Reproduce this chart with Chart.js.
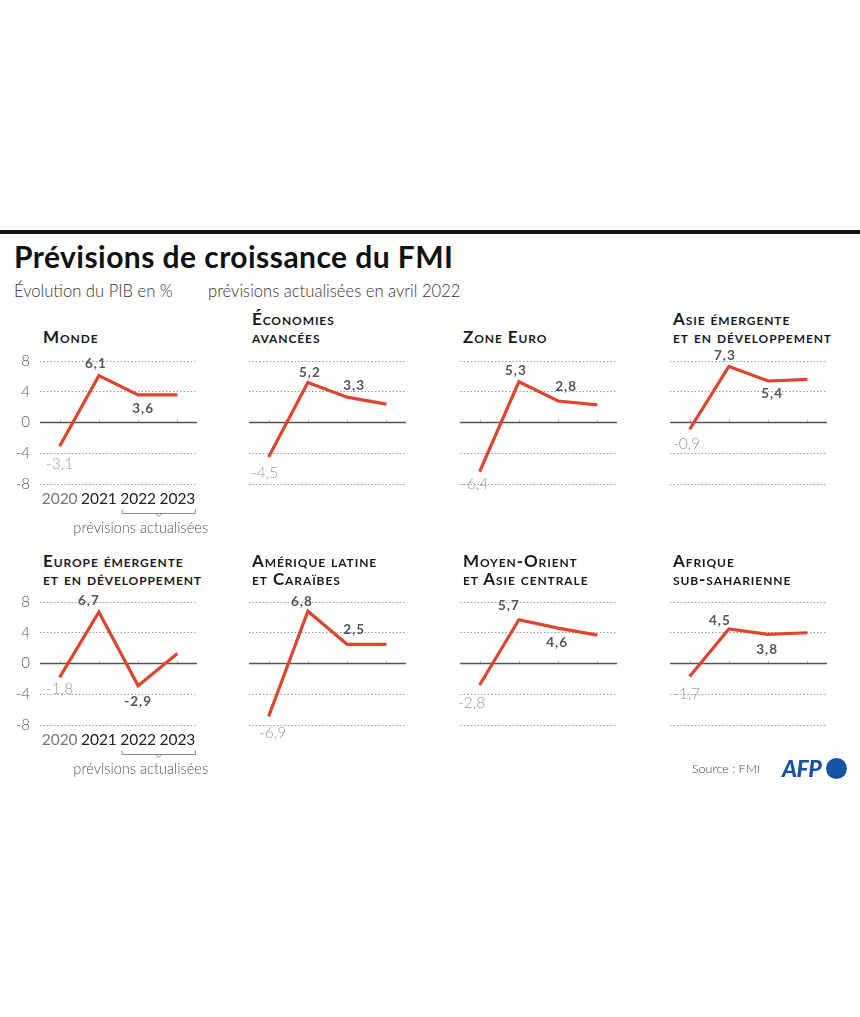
<!DOCTYPE html>
<html>
<head>
<meta charset="utf-8">
<script src="https://cdn.jsdelivr.net/npm/chart.js@4.4.1/dist/chart.umd.min.js"></script>
<style>
  html, body { margin:0; padding:0; background:#fff; }
  body { width:860px; height:1017px; position:relative; overflow:hidden; font-family: "Lato", "Noto Sans", sans-serif; }
  #bar { position:absolute; left:0; top:230px; width:860px; height:4px; background:#111; }
  #title { position:absolute; left:14px; top:238px; font-size:30px; font-weight:700; color:#111; white-space:nowrap; letter-spacing:0.45px; }
  .sub { position:absolute; top:281px; font-size:16.6px; font-weight:300; color:#333; white-space:nowrap; }
  .ptitle { position:absolute; font-variant: small-caps; font-weight:700; font-size:17px; color:#1a1a1a; line-height:18px; letter-spacing:0.9px; white-space:nowrap; }
  .ptitle div { white-space:nowrap; }
  canvas { position:absolute; }
  #source { position:absolute; left:692px; top:761px; font-size:12.5px; font-weight:300; color:#444; }
  #afp { position:absolute; left:782px; top:754px; font-size:23px; font-weight:900; font-style:italic; color:#1553a6; letter-spacing:-0.5px; }
  #afpdot { position:absolute; left:826px; top:758px; width:21px; height:21px; border-radius:50%; background:#1553a6; }
</style>
</head>
<body>
<div id="bar"></div>
<div id="title">Prévisions de croissance du FMI</div>
<div class="sub" style="left:14px">Évolution du PIB en %</div>
<div class="sub" style="left:208px">prévisions actualisées en avril 2022</div>
<div id="panels"></div>
<div id="source">Source : FMI</div>
<div id="afp">AFP</div>
<div id="afpdot"></div>
<script>
// ---------- DATA ----------
const years = ["2020", "2021", "2022", "2023"];
const yTicks = [-8, -4, 0, 4, 8];
const regionTitles = [
  ["Monde"],
  ["Économies", "avancées"],
  ["Zone Euro"],
  ["Asie émergente", "et en développement"],
  ["Europe émergente", "et en développement"],
  ["Amérique latine", "et Caraïbes"],
  ["Moyen-Orient", "et Asie centrale"],
  ["Afrique", "sub-saharienne"]
];
const monde      = [-3.1, 6.1, 3.6, 3.6];
const avancees   = [-4.5, 5.2, 3.3, 2.4];
const zoneEuro   = [-6.4, 5.3, 2.8, 2.3];
const asie       = [-0.9, 7.3, 5.4, 5.6];
const europe     = [-1.8, 6.7, -2.9, 1.3];
const amerique   = [-6.9, 6.8, 2.5, 2.5];
const moyenOrient= [-2.8, 5.7, 4.6, 3.7];
const afrique    = [-1.7, 4.5, 3.8, 4.0];
const seriesValues = [monde, avancees, zoneEuro, asie, europe, amerique, moyenOrient, afrique];
// which points carry a value label
const labelled = [
  [true, true, true, false],
  [true, true, true, false],
  [true, true, true, false],
  [true, true, true, false],
  [true, true, true, false],
  [true, true, true, false],
  [true, true, true, false],
  [true, true, true, false]
];

// ---------- LAYOUT / STYLE (not data) ----------
const colLeft = [40, 249, 460, 670];
const rowTop = [361, 602];
const titleBase = [342, 584];
const plotW = 157, plotH = 123;
const padTop = 25, padRight = 22, axisW = 40, axisH = 60;
const lineColor = "#e0452b";
// label offsets [dx, dy] in px relative to the point
const labelOffsets = [
  [[0, 18], [-3, -12], [5, 14]],
  [[-4, 16], [2, -10], [7, -11]],
  [[-5, 12], [-3, -11], [8, -14]],
  [[-3, 15], [-4, -11], [4, 13]],
  [[0, 12], [-10, -11], [0, 16]],
  [[4, 16], [-6, -10], [7, -15]],
  [[-8, 18], [-10, -14], [-1, 15]],
  [[-3, 17], [-9, -8], [-1, 15]]
];

function fmt(v) { return String(v.toFixed(1)).replace(".", ","); }

const panels = document.getElementById("panels");

regionTitles.forEach((t, i) => {
  const col = i % 4, row = Math.floor(i / 4);
  const first = col === 0;
  // title
  const d = document.createElement("div");
  d.className = "ptitle";
  d.style.left = (colLeft[col] + 3) + "px";
  d.style.top = (titleBase[row] - 14 - 18 * (t.length - 1)) + "px";
  t.forEach(line => { const l = document.createElement("div"); l.textContent = line; d.appendChild(l); });
  panels.appendChild(d);

  const cv = document.createElement("canvas");
  const cw = axisW + plotW + padRight, ch = padTop + plotH + axisH;
  cv.width = cw; cv.height = ch;
  cv.style.width = cw + "px"; cv.style.height = ch + "px";
  cv.style.left = (colLeft[col] - axisW) + "px";
  cv.style.top = (rowTop[row] - padTop) + "px";
  panels.appendChild(cv);

  const vals = seriesValues[i];
  const offs = labelOffsets[i];
  const labs = labelled[i];

  const extras = {
    id: "extras" + i,
    beforeDatasetsDraw(chart) {
      const ctx = chart.ctx, ca = chart.chartArea;
      const ys = chart.scales.y, xs = chart.scales.x;
      const y0 = ys.getPixelForValue(0);
      ctx.save();
      // small tick marks at categories
      ctx.strokeStyle = "#bbb"; ctx.lineWidth = 1;
      years.forEach((_, k) => {
        const x = Math.round(xs.getPixelForValue(k)) + 0.5;
        ctx.beginPath(); ctx.moveTo(x, y0 - 3); ctx.lineTo(x, y0); ctx.stroke();
      });
      // zero line
      ctx.strokeStyle = "#555"; ctx.lineWidth = 1.3;
      ctx.beginPath(); ctx.moveTo(ca.left, y0); ctx.lineTo(ca.right, y0); ctx.stroke();
      ctx.restore();
    },
    afterDatasetsDraw(chart) {
      const ctx = chart.ctx;
      const meta = chart.getDatasetMeta(0);
      ctx.save();
      ctx.textAlign = "center"; ctx.textBaseline = "middle";
      meta.data.forEach((pt, k) => {
        if (!labs[k]) return;
        const o = offs[k];
        if (k === 0) {
          ctx.font = "300 15.5px Lato";
          ctx.fillStyle = "#9a9a9a";
          ctx.letterSpacing = "0px";
        } else {
          ctx.font = "700 13.5px Lato";
          ctx.fillStyle = "#555";
          ctx.letterSpacing = "1px";
        }
        ctx.fillText(fmt(vals[k]), pt.x + o[0], pt.y + o[1]);
      });
      ctx.restore();
    },
    afterDraw(chart) {
      if (!first) return;
      const ctx = chart.ctx, ca = chart.chartArea, xs = chart.scales.x;
      const x2 = xs.getPixelForValue(2), x3 = xs.getPixelForValue(3);
      const bl = x2 - 16, br = x3 + 18, by = ca.bottom + 29.5;
      ctx.save();
      ctx.strokeStyle = "#888"; ctx.lineWidth = 1;
      ctx.beginPath();
      ctx.moveTo(bl, by - 4); ctx.lineTo(bl, by); ctx.lineTo(br, by); ctx.lineTo(br, by - 4);
      const mid = (bl + br) / 2;
      ctx.moveTo(mid - 3, by); ctx.lineTo(mid, by + 3); ctx.lineTo(mid + 3, by);
      ctx.stroke();
      ctx.font = "300 14.6px Lato"; ctx.fillStyle = "#555";
      ctx.textAlign = "center"; ctx.textBaseline = "middle";
      ctx.fillText("prévisions actualisées", (x2 + x3) / 2 - 17, ca.bottom + 44);
      ctx.restore();
    }
  };

  new Chart(cv, {
    type: "line",
    data: {
      labels: years,
      datasets: [{
        data: vals,
        borderColor: lineColor,
        borderWidth: 3.2,
        pointRadius: 0,
        tension: 0,
        clip: false,
        borderJoinStyle: "miter"
      }]
    },
    options: {
      responsive: false,
      animation: false,
      devicePixelRatio: 1,
      layout: { padding: { top: padTop, right: padRight, left: 0, bottom: 0 } },
      plugins: { legend: { display: false }, tooltip: { enabled: false }, title: { display: false } },
      scales: {
        x: {
          type: "category",
          offset: true,
          grid: { display: false, drawTicks: false },
          border: { display: false },
          ticks: {
            display: first,
            padding: 6,
            maxRotation: 0,
            autoSkip: false,
            font: { family: "Lato", size: 15.5, weight: 400 },
            color: (c) => c.index === 0 ? "#777" : "#222"
          },
          afterFit: (s) => { s.height = axisH; }
        },
        y: {
          min: -8, max: 8,
          afterBuildTicks: (s) => { s.ticks = yTicks.map(v => ({ value: v })); },
          grid: {
            drawTicks: false,
            color: (c) => c.tick && c.tick.value === 0 ? "rgba(0,0,0,0)" : "#9a9a9a",
            lineWidth: 1
          },
          border: { display: false, dash: [1.5, 2] },
          ticks: {
            display: first,
            padding: 10,
            font: { family: "Lato", size: 15, weight: 300 },
            color: "#555",
            callback: (v) => String(v)
          },
          afterFit: (s) => { s.width = axisW; }
        }
      }
    },
    plugins: [extras]
  });
});
</script>
</body>
</html>
